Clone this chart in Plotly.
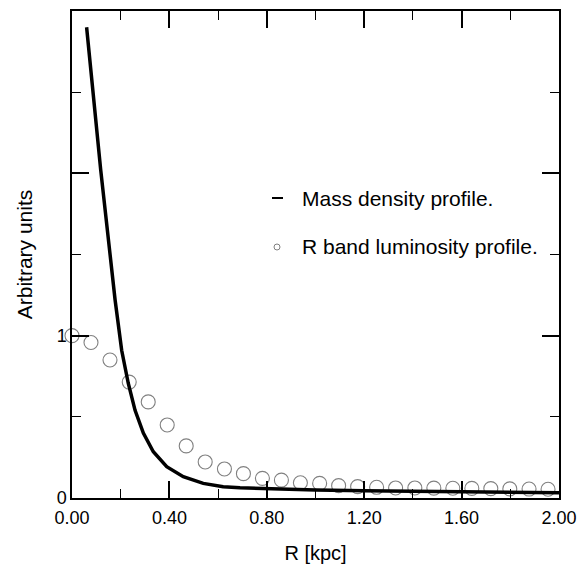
import plotly.graph_objects as go

# Mass density profile (solid curve)
mass_r = [0.060, 0.118, 0.177, 0.204, 0.231, 0.259, 0.293, 0.334, 0.389, 0.457,
          0.539, 0.621, 0.690, 0.800, 1.000, 1.200, 1.400, 1.600, 1.800, 2.000]
mass_val = [2.90, 2.02, 1.22, 0.91, 0.707, 0.54, 0.40, 0.285, 0.193, 0.131,
            0.090, 0.070, 0.063, 0.057, 0.050, 0.045, 0.042, 0.038, 0.035, 0.033]

# R band luminosity profile (open circles)
lum_r = [0.000, 0.078, 0.156, 0.235, 0.313, 0.391, 0.469, 0.547, 0.626, 0.704,
         0.782, 0.860, 0.938, 1.017, 1.095, 1.173, 1.251, 1.329, 1.408, 1.486,
         1.564, 1.642, 1.720, 1.798, 1.877, 1.955]
lum_val = [1.00, 0.958, 0.85, 0.714, 0.592, 0.45, 0.321, 0.222, 0.179, 0.15,
           0.121, 0.11, 0.094, 0.09, 0.076, 0.07, 0.066, 0.062, 0.062, 0.061,
           0.060, 0.059, 0.058, 0.056, 0.055, 0.054]

x_tickvals = [0.0, 0.4, 0.8, 1.2, 1.6, 2.0]
x_ticktext = ["0.00", "0.40", "0.80", "1.20", "1.60", "2.00"]
y_tickvals = [0, 1, 2, 3]
y_ticktext = ["0", "1", "", ""]

legend_labels = ["Mass density profile.", "R band luminosity profile."]

FONT = "Liberation Sans, Arial, sans-serif"

fig = go.Figure()
fig.add_trace(go.Scatter(
    x=lum_r, y=lum_val, mode="markers", cliponaxis=False,
    marker=dict(symbol="circle-open", size=14, color="#808080",
                line=dict(width=1.1, color="#808080")),
    showlegend=False))
fig.add_trace(go.Scatter(
    x=mass_r, y=mass_val, mode="lines", cliponaxis=False,
    line=dict(color="black", width=3.5), showlegend=False))

axis_common = dict(
    showgrid=False, zeroline=False, showline=True, linecolor="black", linewidth=1.5,
    mirror="allticks", ticks="inside", ticklen=17, tickwidth=1.5, tickcolor="black",
    tickfont=dict(family=FONT, size=18, color="black"), automargin=False,
)

fig.update_xaxes(
    range=[0, 2], tickvals=x_tickvals, ticktext=x_ticktext, ticklabelstandoff=3,
    minor=dict(dtick=0.2, ticks="inside", ticklen=9, tickwidth=1.2, tickcolor="black"),
    title=dict(text="R [kpc]", font=dict(family=FONT, size=20, color="black"), standoff=19),
    **axis_common)
fig.update_yaxes(
    range=[0, 3], tickvals=y_tickvals, ticktext=y_ticktext,
    minor=dict(dtick=0.5, ticks="inside", ticklen=9, tickwidth=1.2, tickcolor="black"),
    title=dict(text="Arbitrary units", font=dict(family=FONT, size=21, color="black"), standoff=18),
    **axis_common)

# Legend drawn manually
fig.add_shape(type="line", xref="paper", yref="paper",
              x0=(272 - 72) / 487, x1=(283 - 72) / 487,
              y0=(498 - 198) / 487, y1=(498 - 198) / 487,
              line=dict(color="black", width=2))
fig.add_shape(type="circle", xref="paper", yref="paper",
              x0=(274 - 72) / 487, x1=(280 - 72) / 487,
              y0=(498 - 250) / 487, y1=(498 - 244) / 487,
              line=dict(color="#808080", width=1))
for lbl, yy in zip(legend_labels, [198, 247]):
    fig.add_annotation(text=lbl, xref="paper", yref="paper",
                       x=(300 - 72) / 487, y=(498 - yy) / 487,
                       xanchor="left", yanchor="middle", showarrow=False,
                       font=dict(family=FONT, size=21, color="black"))

fig.update_layout(
    width=580, height=569,
    margin=dict(l=72, r=21, t=11, b=71),
    plot_bgcolor="white", paper_bgcolor="white",
    font=dict(family=FONT, color="black"),
)

fig.write_html("out.html",
               config={"displayModeBar": False},
               post_script="document.body.style.margin='0';document.body.style.padding='0';")
